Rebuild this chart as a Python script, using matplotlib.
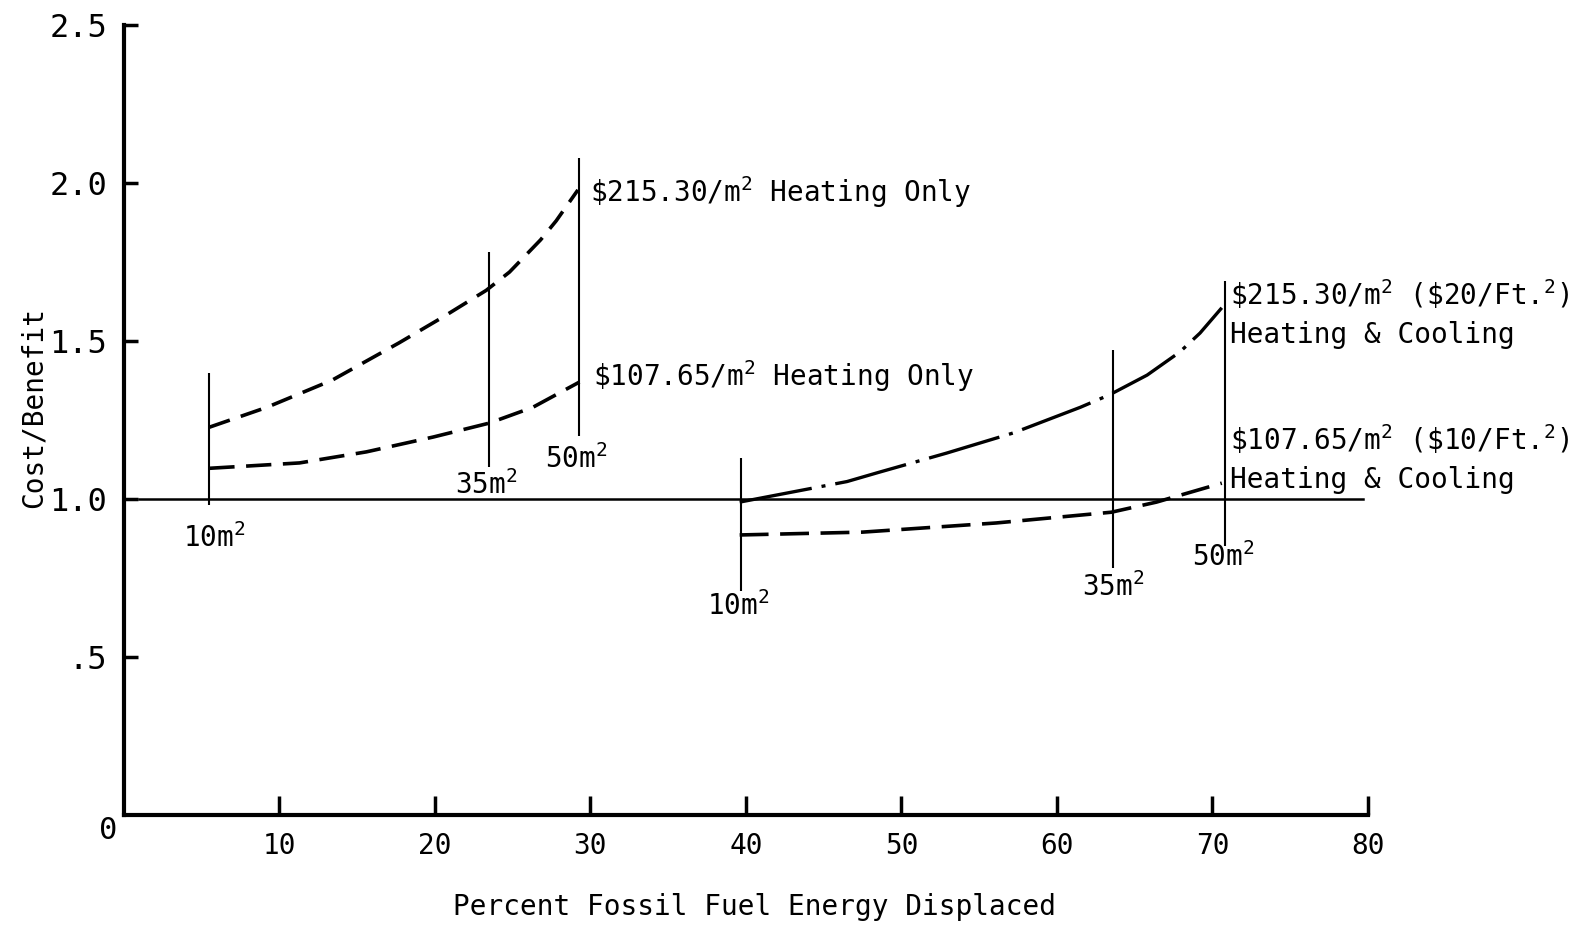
import matplotlib
matplotlib.use('Agg')
import matplotlib.pyplot as plt

plt.rcParams['font.family'] = ['DejaVu Sans Mono']
plt.rcParams['mathtext.default'] = 'regular'

# values
x_heat_215 = [5.5, 9.2, 13.4, 17.7, 20.5, 23.3, 24.8, 26.8, 27.8, 29.2]
y_heat_215 = [1.227, 1.29, 1.376, 1.494, 1.575, 1.66, 1.718, 1.82, 1.88, 1.978]
x_heat_107 = [5.5, 11.3, 15.6, 19.9, 23.5, 26.3, 29.3]
y_heat_107 = [1.097, 1.114, 1.149, 1.196, 1.24, 1.29, 1.37]

x_hc_215 = [39.6, 46.5, 48.6, 52.9, 57.2, 61.5, 63.4, 65.8, 67.9, 69.2, 70.6]
y_hc_215 = [0.99, 1.055, 1.085, 1.145, 1.209, 1.29, 1.33, 1.392, 1.465, 1.525, 1.605]
x_hc_107 = [39.6, 47.5, 56.1, 63.5, 66.4, 70.6]
y_hc_107 = [0.886, 0.895, 0.924, 0.958, 0.99, 1.05]

# collector size markers (vertical lines)
areas = ['10m$^2$', '35m$^2$', '50m$^2$']
heat_mark_x = [5.5, 23.5, 29.3]
heat_mark_top = [1.40, 1.78, 2.08]
heat_mark_bot = [0.98, 1.10, 1.20]
hc_mark_x = [39.7, 63.6, 70.8]
hc_mark_top = [1.13, 1.47, 1.69]
hc_mark_bot = [0.71, 0.78, 0.85]

xticks = [10, 20, 30, 40, 50, 60, 70, 80]
yticks = [0.5, 1.0, 1.5, 2.0, 2.5]
ytick_labels = ['.5', '1.0', '1.5', '2.0', '2.5']

fig = plt.figure(figsize=(15.87, 9.25), dpi=100)
ax = fig.add_axes([0.078, 0.119, 0.784, 0.854])

fs = 20

# baseline cost/benefit = 1
ax.plot([1, 79.7], [1.0, 1.0], color='black', lw=1.8)

# heating only curves
l1, = ax.plot(x_heat_215, y_heat_215, color='black', lw=2.6)
l1.set_dashes([6, 3.2])
l2, = ax.plot(x_heat_107, y_heat_107, color='black', lw=2.6)
l2.set_dashes([7, 3.2])

# heating & cooling curves
l3, = ax.plot(x_hc_215, y_hc_215, color='black', lw=2.4)
l3.set_dashes([22, 3, 1.2, 3])
l4, = ax.plot(x_hc_107, y_hc_107, color='black', lw=2.6)
l4.set_dashes([8, 3.2])

ax.vlines(heat_mark_x, heat_mark_bot, heat_mark_top, color='black', lw=1.5)
ax.vlines(hc_mark_x, hc_mark_bot, hc_mark_top, color='black', lw=1.5)

# area labels
heat_lab_pos = [(5.8, 0.875), (23.3, 1.045), (29.1, 1.125)]
hc_lab_pos = [(39.5, 0.66), (63.6, 0.72), (70.7, 0.815)]
for a, (px, py) in zip(areas, heat_lab_pos):
    ax.text(px, py, a, fontsize=fs, ha='center', va='center')
for a, (px, py) in zip(areas, hc_lab_pos):
    ax.text(px, py, a, fontsize=fs, ha='center', va='center')

ax.text(30.0, 1.97, r'\$215.30/m$^2$ Heating Only', fontsize=fs, va='center')
ax.text(30.2, 1.39, r'\$107.65/m$^2$ Heating Only', fontsize=fs, va='center')
ax.text(71.1, 1.65, r'\$215.30/m$^2$ (\$20/Ft.$^2$)', fontsize=fs, va='center', clip_on=False)
ax.text(71.1, 1.52, 'Heating & Cooling', fontsize=fs, va='center', clip_on=False)
ax.text(71.1, 1.19, r'\$107.65/m$^2$ (\$10/Ft.$^2$)', fontsize=fs, va='center', clip_on=False)
ax.text(71.1, 1.06, 'Heating & Cooling', fontsize=fs, va='center', clip_on=False)

ax.set_xlim(0, 80)
ax.set_ylim(0, 2.5)
ax.set_xticks(xticks)
ax.set_xticklabels([str(t) for t in xticks], fontsize=fs)
ax.set_yticks(yticks)
ax.set_yticklabels(ytick_labels, fontsize=23)
ax.tick_params(axis='x', direction='in', length=14, width=2.5, pad=12)
ax.tick_params(axis='y', direction='in', length=10, width=2.5, pad=12)
ax.text(-1.0, -0.05, '0', fontsize=22, ha='center', va='center')

for s in ['top', 'right']:
    ax.spines[s].set_visible(False)
for s in ['left', 'bottom']:
    ax.spines[s].set_linewidth(3)

ax.set_ylabel('Cost/Benefit', fontsize=fs)
ax.yaxis.set_label_coords(-0.061, 0.516)
ax.set_xlabel('Percent Fossil Fuel Energy Displaced', fontsize=fs)
ax.xaxis.set_label_coords(0.507, -0.099)

fig.savefig('out.png', dpi=100)
